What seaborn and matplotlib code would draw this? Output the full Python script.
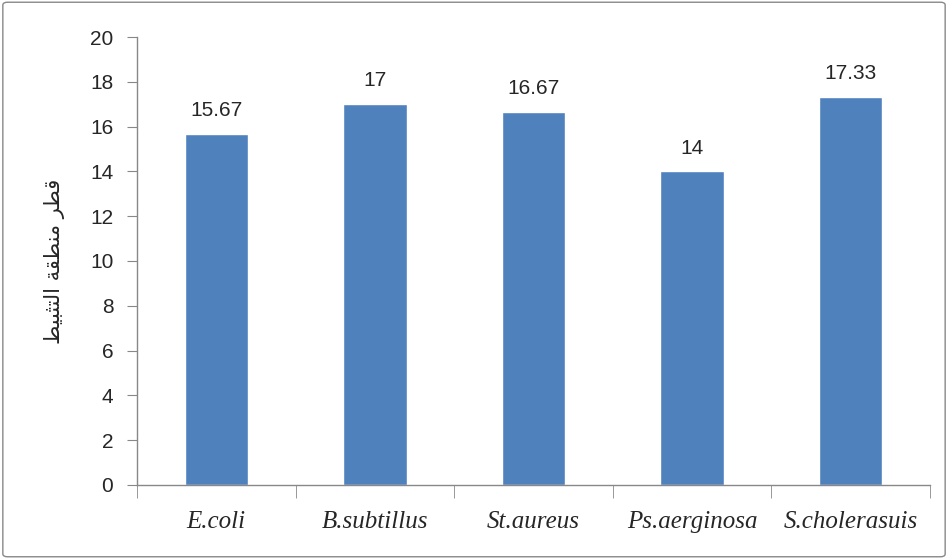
import matplotlib
matplotlib.use("Agg")
import matplotlib.pyplot as plt
from matplotlib.patches import FancyBboxPatch
import pandas as pd
import seaborn as sns

# bacteria and inhibition zone diameter
bacteria = ['E.coli', 'B.subtillus', 'St.aureus', 'Ps.aerginosa', 'S.cholerasuis']
zone = [15.67, 17, 16.67, 14, 17.33]
value_labels = ['15.67', '17', '16.67', '14', '17.33']
y_ticks = [0, 2, 4, 6, 8, 10, 12, 14, 16, 18, 20]

# "قطر منطقة التثبيط" written in presentation forms, visual order (matplotlib has no shaping)
ylabel_ar = ('\uFEC2\uFEF4\uFE92\uFE9C\uFE98\uFEDF\uFE8D' + ' '
             + '\uFE94\uFED8\uFEC4\uFEE8\uFEE3' + ' '
             + '\uFEAE\uFEC4\uFED7')

df = pd.DataFrame({'bacteria': bacteria, 'zone': zone})

sns.set_style('white')
plt.rcParams['font.family'] = ['Liberation Sans', 'DejaVu Sans']

fig = plt.figure(figsize=(9.48, 5.59), dpi=100)
ax = fig.add_axes([0.1445, 0.1324, 0.8365, 0.8014])

sns.barplot(data=df, x='bacteria', y='zone', color='#4F81BD', width=0.4,
            saturation=1, ax=ax)

ax.bar_label(ax.containers[0], labels=value_labels, padding=10, fontsize=15)

ax.set_ylim(0, 20)
ax.set_yticks(y_ticks)
ax.set_xlim(-0.5, len(bacteria) - 0.5)
ax.tick_params(axis='y', labelsize=15, length=7, color='#888888', direction='out',
               left=True, pad=10)
ax.set_xticks(range(len(bacteria)))
ax.set_xticklabels(bacteria, fontsize=18, style='italic', family='Liberation Serif')
ax.tick_params(axis='x', which='major', length=0, pad=19)
ax.set_xticks([i - 0.5 for i in range(len(bacteria) + 1)], minor=True)
ax.tick_params(axis='x', which='minor', length=9, color='#888888', direction='out',
               bottom=True)

for s in ['top', 'right']:
    ax.spines[s].set_visible(False)
for s in ['left', 'bottom']:
    ax.spines[s].set_color('#888888')
    ax.spines[s].set_linewidth(1)

ax.set_xlabel('')
ax.set_ylabel(ylabel_ar, fontsize=15, family=['DejaVu Sans'], labelpad=18)

# outer chart border
fig.patches.append(FancyBboxPatch((0.003, 0.004), 0.994, 0.992,
                                  boxstyle='round,pad=0,rounding_size=0.005',
                                  transform=fig.transFigure, fill=False,
                                  edgecolor='#888888', linewidth=1))

plt.savefig('out.png', dpi=100)
